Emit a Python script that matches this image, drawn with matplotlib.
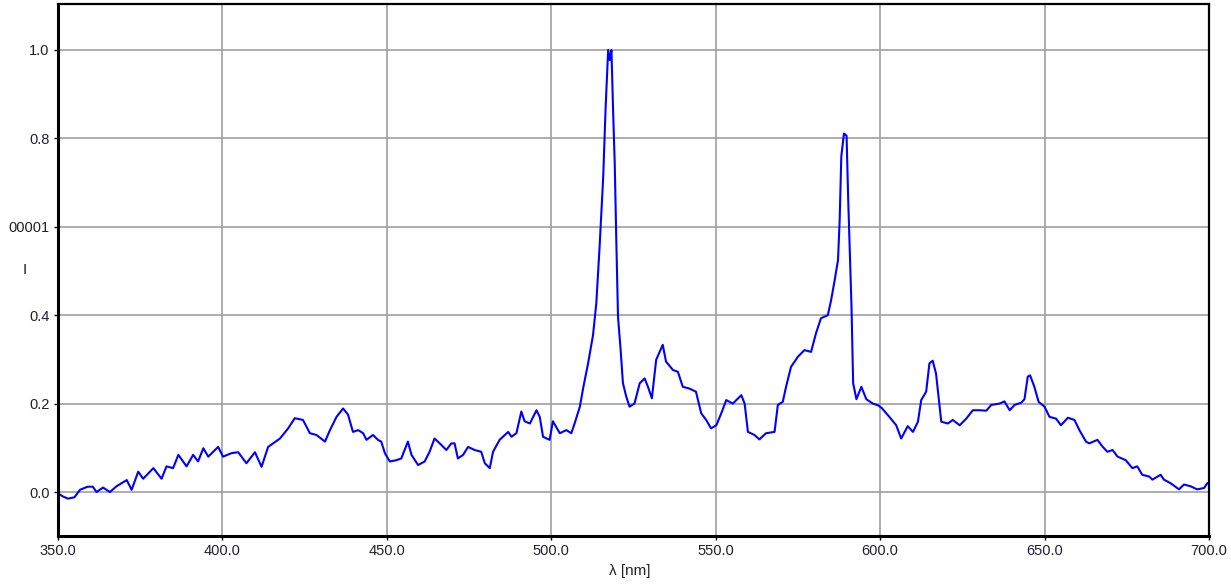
import matplotlib
matplotlib.use("Agg")
import matplotlib.pyplot as plt

# spectrum
wavelength = [
    350.0, 351.5, 353.0, 355.0, 356.7, 359.0, 360.6, 361.7, 363.7, 365.8,
    367.8, 370.9, 372.4, 374.4, 375.9, 379.0, 381.5, 383.0, 385.0, 386.6,
    389.1, 391.1, 392.6, 394.2, 395.7, 398.7, 400.2, 402.8, 404.8, 407.3,
    409.9, 411.9, 413.9, 417.5, 420.0, 422.0, 424.5, 426.6, 428.6, 431.2,
    432.7, 434.7, 436.7, 438.2, 439.7, 441.3, 442.8, 443.8, 445.8, 447.3,
    448.3, 449.4, 450.9, 452.9, 454.4, 456.4, 457.5, 459.5, 461.5, 463.0,
    464.5, 466.1, 468.1, 469.6, 470.6, 471.6, 473.2, 474.7, 476.7, 478.7,
    479.8, 481.3, 482.3, 484.3, 486.9, 487.9, 489.4, 490.9, 491.9, 493.5,
    495.5, 496.5, 497.5, 499.5, 500.5, 502.6, 504.6, 506.1, 507.1, 508.7,
    509.7, 511.2, 512.7, 513.7, 514.7, 515.8, 516.5, 517.3, 517.8, 518.3,
    518.8, 519.3, 519.8, 520.3, 521.1, 521.8, 522.8, 523.8, 525.3, 526.9,
    528.4, 529.4, 530.6, 531.9, 533.9, 534.9, 537.0, 538.5, 540.0, 542.0,
    544.0, 545.6, 547.1, 548.6, 550.2, 551.7, 553.2, 555.2, 557.8, 558.8,
    559.8, 561.8, 563.3, 565.3, 567.9, 568.9, 570.4, 571.4, 572.9, 575.0,
    577.0, 579.0, 580.5, 582.0, 584.1, 585.1, 586.2, 587.2, 587.7, 588.2,
    589.0, 589.8, 590.3, 590.8, 591.3, 591.8, 592.8, 594.3, 595.8, 597.8,
    599.4, 600.5, 602.8, 604.9, 606.4, 608.4, 610.0, 611.5, 612.5, 614.0,
    615.0, 616.0, 617.0, 618.1, 618.6, 620.6, 622.1, 624.2, 626.2, 628.2,
    630.2, 632.3, 633.8, 636.3, 637.8, 639.4, 640.9, 642.9, 643.9, 644.9,
    645.6, 646.9, 648.2, 650.0, 651.5, 653.5, 655.0, 657.1, 659.1, 660.6,
    662.6, 663.6, 666.1, 667.6, 669.1, 670.7, 672.2, 674.7, 676.7, 678.2,
    679.7, 681.8, 682.8, 685.3, 686.3, 688.3, 690.9, 692.4, 694.4, 696.4,
    698.5, 699.5, 700.0,
]
intensity = [
    -0.003, -0.010, -0.015, -0.012, 0.005, 0.012, 0.012, 0.000, 0.010, 0.000,
    0.013, 0.027, 0.005, 0.046, 0.030, 0.054, 0.030, 0.058, 0.054, 0.084,
    0.058, 0.084, 0.069, 0.099, 0.080, 0.102, 0.080, 0.088, 0.090, 0.065,
    0.090, 0.057, 0.102, 0.121, 0.144, 0.167, 0.163, 0.133, 0.129, 0.114,
    0.140, 0.170, 0.189, 0.175, 0.136, 0.140, 0.133, 0.118, 0.129, 0.118,
    0.114, 0.088, 0.069, 0.072, 0.076, 0.114, 0.084, 0.061, 0.069, 0.091,
    0.121, 0.110, 0.095, 0.110, 0.110, 0.076, 0.084, 0.102, 0.095, 0.091,
    0.065, 0.054, 0.091, 0.118, 0.136, 0.125, 0.133, 0.182, 0.160, 0.155,
    0.185, 0.170, 0.125, 0.118, 0.160, 0.133, 0.140, 0.133, 0.155, 0.193,
    0.235, 0.291, 0.355, 0.427, 0.555, 0.713, 0.864, 1.000, 0.977, 1.000,
    0.864, 0.743, 0.562, 0.396, 0.321, 0.246, 0.216, 0.193, 0.200, 0.246,
    0.257, 0.238, 0.212, 0.299, 0.333, 0.295, 0.276, 0.272, 0.238, 0.234,
    0.227, 0.178, 0.163, 0.144, 0.151, 0.178, 0.208, 0.200, 0.219, 0.200,
    0.136, 0.129, 0.119, 0.133, 0.136, 0.197, 0.204, 0.238, 0.283, 0.306,
    0.321, 0.317, 0.359, 0.393, 0.400, 0.434, 0.480, 0.525, 0.615, 0.759,
    0.811, 0.806, 0.661, 0.540, 0.419, 0.246, 0.210, 0.238, 0.210, 0.200,
    0.196, 0.190, 0.170, 0.151, 0.121, 0.149, 0.136, 0.159, 0.208, 0.227,
    0.291, 0.297, 0.268, 0.193, 0.159, 0.155, 0.163, 0.151, 0.166, 0.185,
    0.185, 0.184, 0.197, 0.200, 0.205, 0.185, 0.197, 0.202, 0.210, 0.261,
    0.264, 0.238, 0.204, 0.193, 0.170, 0.166, 0.151, 0.168, 0.163, 0.140,
    0.114, 0.110, 0.118, 0.103, 0.091, 0.095, 0.080, 0.072, 0.054, 0.058,
    0.039, 0.035, 0.028, 0.039, 0.028, 0.020, 0.006, 0.017, 0.013, 0.006,
    0.009, 0.020, 0.020,
]

x_ticks = [350.0, 400.0, 450.0, 500.0, 550.0, 600.0, 650.0, 700.0]
x_tick_labels = ["350.0", "400.0", "450.0", "500.0", "550.0", "600.0", "650.0", "700.0"]
y_ticks = [0.0, 0.2, 0.4, 0.6, 0.8, 1.0]
y_tick_labels = ["0.0", "0.2", "0.4", "00001", "0.8", "1.0"]

plt.rcParams['font.family'] = ['Liberation Sans', 'DejaVu Sans']

fig = plt.figure(figsize=(12.31, 5.87), dpi=100)
ax = fig.add_axes([0.0471, 0.0869, 0.9350, 0.9063])

ax.plot(wavelength, intensity, color='#0000ff', linewidth=1.5)

ax.set_xlim(350, 700)
ax.set_ylim(-0.0995, 1.104)

ax.set_xticks(x_ticks)
ax.set_xticklabels(x_tick_labels)
ax.set_yticks(y_ticks)
ax.set_yticklabels(y_tick_labels)
ax.tick_params(axis='both', length=3, width=1, pad=3, labelsize=10.5, labelcolor='#202030')

ax.grid(True, color='#a0a0a0', linewidth=1.2)
ax.set_axisbelow(True)

for side in ['left', 'bottom']:
    ax.spines[side].set_linewidth(2.2)
for side in ['top', 'right']:
    ax.spines[side].set_linewidth(1.6)

ax.set_xlabel("λ [nm]", fontsize=11, color='#202030')
ax.xaxis.set_label_coords(0.497, -0.053)
ax.set_ylabel("I", fontsize=11, rotation=0, color='#202030', va='center')
ax.yaxis.set_label_coords(-0.0287, 0.5)

fig.savefig("out.png", dpi=100)
